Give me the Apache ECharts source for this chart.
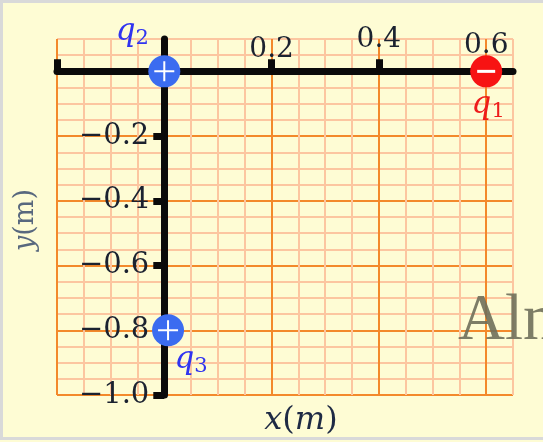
<!DOCTYPE html>
<html>
<head>
<meta charset="utf-8">
<title>点电荷位置图</title>
<script src="https://cdn.jsdelivr.net/npm/echarts@6.0.0/dist/echarts.min.js"></script>
<style>
  html, body { margin: 0; padding: 0; background: #fefcd4; }
  #chart { width: 543px; height: 442px; }
</style>
</head>
<body>
<div id="chart"></div>
<script>
  // 坐标范围
  let xMin = -0.2, xMax = 0.65;
  let yMin = -1.0, yMax = 0.1;
  let gridStep = 0.05;
  // 刻度和标签
  let xTickValues = [-0.2, 0.2, 0.4, 0.6];
  let xLabelValues = [0.2, 0.4, 0.6];
  let yTickValues = [-0.2, -0.4, -0.6, -0.8, -1.0];
  let yLabelValues = [-0.2, -0.4, -0.6, -0.8, -1.0];

  // 电荷 q1 q2 q3
  let chargeNames = ['1', '2', '3'];
  let chargeX = [0.6, 0, 0.007];
  let chargeY = [0, 0, -0.8];
  let chargeSign = ['-', '+', '+'];

  let majorColor = '#f3892b';
  let minorColor = '#fcc6a0';
  let axisColor = '#0a0a0a';
  let labelFont = "'DejaVu Serif', serif";

  // 网格位置
  let gLeft = 57, gRight = 30, gTop = 39, gBottom = 47;
  let gW = 543 - gLeft - gRight, gH = 442 - gTop - gBottom;
  // 黑色坐标轴移到 0 处
  let yAxisShift = -(0 - xMin) * gW / (xMax - xMin);
  let xAxisShift = -(yMax - 0) * gH / (yMax - yMin);

  let fmtNum = function (v) {
    let s = Math.abs(v).toFixed(1);
    return v < 0 ? '\u2212' + s : s;
  };

  // 标签位置（相对电荷圆心）
  let labelOffsets = [[2, 34], [-32, -39], [23, 30]];

  let circleData = chargeX.map(function (x, i) {
    let pos = chargeSign[i] === '+';
    let c = pos ? '#3034f0' : '#ee1c1c';
    return {
      value: [x, chargeY[i]],
      itemStyle: { color: pos ? '#3b6cf0' : '#f71313', opacity: 1 },
      label: {
        show: true,
        position: 'inside',
        offset: labelOffsets[i],
        formatter: '{q|q}{s|' + chargeNames[i] + '}',
        rich: {
          q: { fontFamily: labelFont, fontStyle: 'italic', fontSize: 31, lineHeight: 34, color: c },
          s: { fontFamily: labelFont, fontSize: 21, lineHeight: 14, verticalAlign: 'bottom', color: c }
        }
      }
    };
  });

  let signData = chargeX.map(function (x, i) {
    let pos = chargeSign[i] === '+';
    return {
      value: [x, chargeY[i]],
      symbol: pos ? 'path://M9,0h2v9h9v2h-9v9h-2v-9h-9v-2h9z' : 'path://M0,0h20v3h-20z',
      symbolSize: pos ? 20 : [18, 3]
    };
  });

  let myChart = echarts.init(document.getElementById('chart'));

  let option = {
    backgroundColor: '#fefcd4',
    animation: false,
    grid: { left: gLeft, right: gRight, top: gTop, bottom: gBottom, outerBoundsMode: 'none' },
    xAxis: [
      {
        // 网格线
        type: 'value', min: xMin, max: xMax, interval: gridStep, position: 'bottom',
        axisLine: { show: false, onZero: false }, axisTick: { show: false }, axisLabel: { show: false },
        splitLine: { show: true, lineStyle: { color: [majorColor, minorColor, minorColor, minorColor], width: 2 } }
      },
      {
        // 黑色 x 轴
        type: 'value', min: xMin, max: xMax, interval: 0.2, position: 'top', offset: xAxisShift, z: 3,
        axisLine: { show: true, onZero: false, lineStyle: { color: axisColor, width: 7 } },
        axisTick: { show: true, inside: false, length: 12, customValues: xTickValues, lineStyle: { color: axisColor, width: 7 } },
        axisLabel: {
          show: true, customValues: xLabelValues, margin: 8,
          fontFamily: labelFont, fontSize: 28, color: '#1b2230',
          formatter: function (v) {
            let k = Math.round(v * 10);
            let key = k === 4 ? 'b' : (k === 6 ? 'c' : 'a');
            return '{' + key + '|' + fmtNum(v) + '}';
          },
          rich: {
            a: { fontFamily: labelFont, fontSize: 28, color: '#1b2230', padding: [0, 0, 0, 0] },
            b: { fontFamily: labelFont, fontSize: 28, color: '#1b2230', padding: [0, 0, 10, 0] },
            c: { fontFamily: labelFont, fontSize: 28, color: '#1b2230', padding: [0, 0, 4, 0] }
          }
        },
        splitLine: { show: false }
      }
    ],
    yAxis: [
      {
        type: 'value', min: yMin, max: yMax, interval: gridStep, position: 'right',
        axisLine: { show: false, onZero: false }, axisTick: { show: false }, axisLabel: { show: false },
        splitLine: { show: true, lineStyle: { color: [majorColor, minorColor, minorColor, minorColor], width: 2 } }
      },
      {
        // 黑色 y 轴
        type: 'value', min: yMin, max: yMax, interval: 0.2, position: 'left', offset: yAxisShift, z: 3,
        axisLine: { show: true, onZero: false, lineStyle: { color: axisColor, width: 7 } },
        axisTick: { show: true, inside: false, length: 11, customValues: yTickValues, lineStyle: { color: axisColor, width: 7 } },
        axisLabel: {
          show: true, customValues: yLabelValues, margin: 15,
          fontFamily: labelFont, fontSize: 29, color: '#1b2230',
          formatter: fmtNum
        },
        splitLine: { show: false }
      }
    ],
    graphic: [
      { type: 'rect', z: 100, shape: { x: 1.5, y: 1.5, width: 548, height: 437 }, style: { fill: 'none', stroke: '#d9d9d9', lineWidth: 3 } },
      {
        type: 'text', z: 100, x: 26, y: 220, rotation: Math.PI / 2,
        style: {
          text: '{i|y}(m)', fontFamily: labelFont, fontSize: 27, fill: '#58687e',
          align: 'center', verticalAlign: 'middle',
          rich: { i: { fontFamily: labelFont, fontStyle: 'italic', fontSize: 27, fill: '#58687e' } }
        }
      },
      {
        type: 'text', z: 100, x: 301, y: 421,
        style: {
          text: '{i|x}({i|m})', fontFamily: labelFont, fontSize: 32, fill: '#1e2a44',
          align: 'center', verticalAlign: 'middle',
          rich: { i: { fontFamily: labelFont, fontStyle: 'italic', fontSize: 32, fill: '#1e2a44' } }
        }
      },
      {
        type: 'text', z: 100, x: 458, y: 322,
        style: { text: 'Aln', fontFamily: "'Liberation Serif', serif", fontSize: 65, fill: '#6f6f5a', opacity: 0.9, align: 'left', verticalAlign: 'middle' }
      }
    ],
    series: [
      {
        type: 'scatter', xAxisIndex: 0, yAxisIndex: 0, z: 5,
        symbol: 'circle', symbolSize: 32,
        data: circleData
      },
      {
        type: 'scatter', xAxisIndex: 0, yAxisIndex: 0, z: 6,
        itemStyle: { color: '#ffffff', opacity: 1 },
        label: { show: false },
        data: signData
      }
    ]
  };
  myChart.setOption(option);
</script>
</body>
</html>
